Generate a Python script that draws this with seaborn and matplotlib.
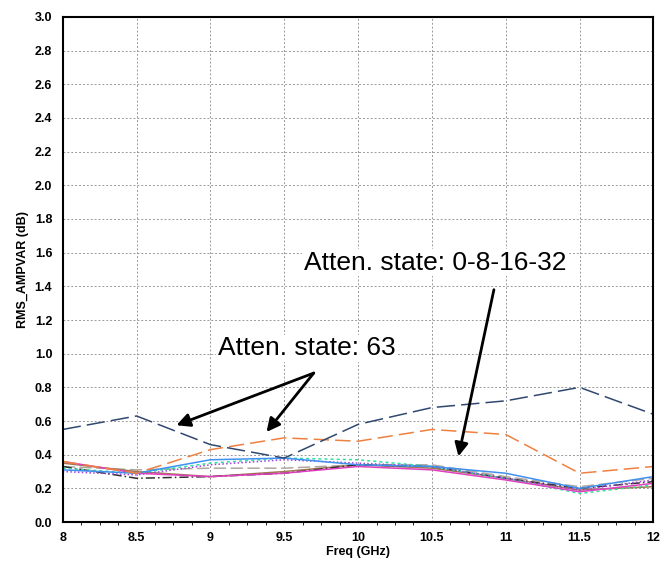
import matplotlib
matplotlib.use("Agg")
import matplotlib.pyplot as plt
import seaborn as sns
import pandas as pd
from matplotlib.ticker import MultipleLocator

freq = [8, 8.5, 9, 9.5, 10, 10.5, 11, 11.5, 12]
s63_a = [0.55, 0.63, 0.46, 0.38, 0.58, 0.68, 0.72, 0.80, 0.64]
s63_b = [0.36, 0.29, 0.43, 0.50, 0.48, 0.55, 0.52, 0.29, 0.33]
s_blue = [0.31, 0.29, 0.37, 0.38, 0.34, 0.33, 0.29, 0.20, 0.27]
s_pink = [0.36, 0.29, 0.27, 0.29, 0.33, 0.31, 0.25, 0.18, 0.23]
s_black = [0.33, 0.26, 0.27, 0.29, 0.34, 0.33, 0.26, 0.20, 0.24]
s_gray = [0.33, 0.31, 0.32, 0.32, 0.34, 0.34, 0.27, 0.21, 0.26]
s_green = [0.32, 0.29, 0.35, 0.38, 0.37, 0.33, 0.26, 0.17, 0.22]
s_purple = [0.30, 0.28, 0.34, 0.37, 0.35, 0.33, 0.26, 0.19, 0.25]
s_brown = [0.35, 0.30, 0.27, 0.30, 0.34, 0.32, 0.26, 0.19, 0.21]

series = [
    (s_gray, "#b0a8a0", (0, (8, 3))),
    (s_brown, "#a07850", "-"),
    (s_black, "#303030", (0, (6, 2, 1, 2))),
    (s_green, "#30e0a0", (0, (2, 2))),
    (s_purple, "#a040e0", (0, (1, 1.5))),
    (s_pink, "#e040c0", "-"),
    (s_blue, "#4090f0", "-"),
    (s63_b, "#f08040", (0, (10, 4))),
    (s63_a, "#304870", (0, (12, 4))),
]

sns.set_style("white")
plt.rcParams['font.family'] = ['Liberation Sans', 'DejaVu Sans']
plt.rcParams['text.color'] = 'black'
plt.rcParams['axes.labelcolor'] = 'black'
plt.rcParams['xtick.color'] = 'black'
plt.rcParams['ytick.color'] = 'black'
fig, ax = plt.subplots(figsize=(6.6, 5.65), dpi=100)
fig.subplots_adjust(left=0.095, right=0.99, top=0.97, bottom=0.076)
for vals, c, ls in series:
    df = pd.DataFrame({"f": freq, "v": vals})
    sns.lineplot(data=df, x="f", y="v", ax=ax, color=c, linestyle=ls, linewidth=1.1)

ax.set_xlim(8, 12)
ax.set_ylim(0, 3.0)
ax.xaxis.set_minor_locator(MultipleLocator(0.125))
ax.set_xticks(freq)
ax.set_xticklabels(["8", "8.5", "9", "9.5", "10", "10.5", "11", "11.5", "12"])
ax.set_yticks([i * 0.2 for i in range(16)])
ax.set_yticklabels([f"{i*0.2:.1f}" for i in range(16)])
ax.tick_params(axis="both", which="major", direction="out", length=4, labelsize=9)
ax.tick_params(axis="x", which="minor", direction="out", length=2, bottom=True)
for lab in ax.get_xticklabels() + ax.get_yticklabels():
    lab.set_fontweight("bold")
ax.grid(True, which="major", color="#999999", linestyle=(0, (2, 2)), linewidth=0.7)
for sp in ax.spines.values():
    sp.set_color("black")
    sp.set_linewidth(1.5)
ax.set_xlabel("Freq (GHz)", fontsize=9, fontweight="bold", labelpad=1)
ax.set_ylabel("RMS_AMPVAR (dB)", fontsize=9, fontweight="bold")

box = dict(facecolor="white", edgecolor="none", pad=1)
ax.text(9.65, 0.99, "Atten. state: 63", fontsize=19, ha="center", va="baseline", bbox=box, color="black")
ax.text(10.52, 1.50, "Atten. state: 0-8-16-32", fontsize=19, ha="center", va="baseline", bbox=box, color="black")
ap = dict(arrowstyle="-|>", color="black", lw=2, mutation_scale=20, shrinkA=0, shrinkB=0)
ax.annotate("", xy=(8.77, 0.575), xytext=(9.7, 0.885), arrowprops=ap)
ax.annotate("", xy=(9.38, 0.535), xytext=(9.7, 0.885), arrowprops=ap)
ax.annotate("", xy=(10.68, 0.39), xytext=(10.92, 1.38), arrowprops=ap)

fig.savefig("out.png")
